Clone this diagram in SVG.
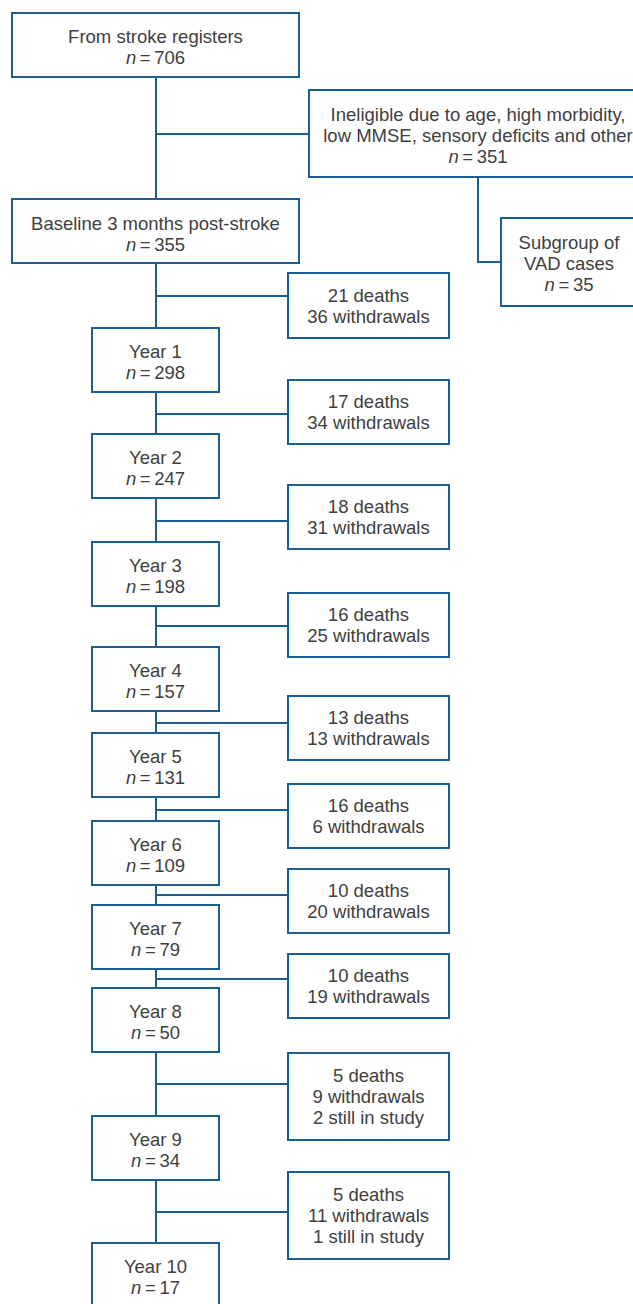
<svg xmlns="http://www.w3.org/2000/svg" width="633" height="1304" viewBox="0 0 633 1304">
<style>
.box{fill:#fff;stroke:#1b5e96;stroke-width:2}
.ln{fill:none;stroke:#1b5e96;stroke-width:2}
text{font-family:"Liberation Sans",Arial,sans-serif;font-size:18.5px;fill:#404040;text-anchor:middle}
.n{word-spacing:-1.5px}
.i{font-style:italic}
</style>
<rect width="633" height="1304" fill="#fff"/>
<g id="connectors">
<path class="ln" d="M156 77V199M156 134H309M478 177V262H501"/>
<path class="ln" d="M156 263V328M156 296H288"/>
<path class="ln" d="M156 392V434M156 414H288"/>
<path class="ln" d="M156 498V542M156 521H288"/>
<path class="ln" d="M156 606V647M156 626H288"/>
<path class="ln" d="M156 711V733M156 723H288"/>
<path class="ln" d="M156 797V821M156 810H288"/>
<path class="ln" d="M156 885V905M156 895H288"/>
<path class="ln" d="M156 969V988M156 979H288"/>
<path class="ln" d="M156 1052V1116M156 1084H288"/>
<path class="ln" d="M156 1180V1243M156 1212H288"/>
</g>
<g id="registers"><rect class="box" x="12" y="13" width="287" height="64"/><text x="155.5" y="43">From stroke registers</text><text class="n" x="155.5" y="64"><tspan class="i">n</tspan> = 706</text></g>
<g id="ineligible"><rect class="box" x="309" y="90" width="338" height="87"/><text x="478" y="121">Ineligible due to age, high morbidity,</text><text x="478" y="142">low MMSE, sensory deficits and other</text><text class="n" x="478" y="163"><tspan class="i">n</tspan> = 351</text></g>
<g id="subgroup"><rect class="box" x="501" y="218" width="136" height="88"/><text x="569" y="249">Subgroup of</text><text x="569" y="270">VAD cases</text><text class="n" x="569" y="291"><tspan class="i">n</tspan> = 35</text></g>
<g id="baseline"><rect class="box" x="12" y="199" width="287" height="64"/><text x="155.5" y="230">Baseline 3 months post-stroke</text><text class="n" x="155.5" y="251"><tspan class="i">n</tspan> = 355</text></g>
<g id="year1"><rect class="box" x="92" y="328" width="127" height="64"/><text x="155.5" y="358">Year 1</text><text class="n" x="155.5" y="379"><tspan class="i">n</tspan> = 298</text></g>
<g id="year2"><rect class="box" x="92" y="434" width="127" height="64"/><text x="155.5" y="464">Year 2</text><text class="n" x="155.5" y="485"><tspan class="i">n</tspan> = 247</text></g>
<g id="year3"><rect class="box" x="92" y="542" width="127" height="64"/><text x="155.5" y="572">Year 3</text><text class="n" x="155.5" y="593"><tspan class="i">n</tspan> = 198</text></g>
<g id="year4"><rect class="box" x="92" y="647" width="127" height="64"/><text x="155.5" y="677">Year 4</text><text class="n" x="155.5" y="698"><tspan class="i">n</tspan> = 157</text></g>
<g id="year5"><rect class="box" x="92" y="733" width="127" height="64"/><text x="155.5" y="763">Year 5</text><text class="n" x="155.5" y="784"><tspan class="i">n</tspan> = 131</text></g>
<g id="year6"><rect class="box" x="92" y="821" width="127" height="64"/><text x="155.5" y="851">Year 6</text><text class="n" x="155.5" y="872"><tspan class="i">n</tspan> = 109</text></g>
<g id="year7"><rect class="box" x="92" y="905" width="127" height="64"/><text x="155.5" y="935">Year 7</text><text class="n" x="155.5" y="956"><tspan class="i">n</tspan> = 79</text></g>
<g id="year8"><rect class="box" x="92" y="988" width="127" height="64"/><text x="155.5" y="1018">Year 8</text><text class="n" x="155.5" y="1039"><tspan class="i">n</tspan> = 50</text></g>
<g id="year9"><rect class="box" x="92" y="1116" width="127" height="64"/><text x="155.5" y="1146">Year 9</text><text class="n" x="155.5" y="1167"><tspan class="i">n</tspan> = 34</text></g>
<g id="year10"><rect class="box" x="92" y="1243" width="127" height="64"/><text x="155.5" y="1273">Year 10</text><text class="n" x="155.5" y="1294"><tspan class="i">n</tspan> = 17</text></g>
<g id="loss1"><rect class="box" x="288" y="273" width="161" height="65"/><text x="368.5" y="302">21 deaths</text><text x="368.5" y="323">36 withdrawals</text></g>
<g id="loss2"><rect class="box" x="288" y="380" width="161" height="64"/><text x="368.5" y="408">17 deaths</text><text x="368.5" y="429">34 withdrawals</text></g>
<g id="loss3"><rect class="box" x="288" y="485" width="161" height="64"/><text x="368.5" y="513">18 deaths</text><text x="368.5" y="534">31 withdrawals</text></g>
<g id="loss4"><rect class="box" x="288" y="593" width="161" height="64"/><text x="368.5" y="621">16 deaths</text><text x="368.5" y="642">25 withdrawals</text></g>
<g id="loss5"><rect class="box" x="288" y="696" width="161" height="64"/><text x="368.5" y="724">13 deaths</text><text x="368.5" y="745">13 withdrawals</text></g>
<g id="loss6"><rect class="box" x="288" y="784" width="161" height="64"/><text x="368.5" y="812">16 deaths</text><text x="368.5" y="833">6 withdrawals</text></g>
<g id="loss7"><rect class="box" x="288" y="869" width="161" height="64"/><text x="368.5" y="897">10 deaths</text><text x="368.5" y="918">20 withdrawals</text></g>
<g id="loss8"><rect class="box" x="288" y="954" width="161" height="64"/><text x="368.5" y="982">10 deaths</text><text x="368.5" y="1003">19 withdrawals</text></g>
<g id="loss9"><rect class="box" x="288" y="1053" width="161" height="87"/><text x="368.5" y="1082">5 deaths</text><text x="368.5" y="1103">9 withdrawals</text><text x="368.5" y="1124">2 still in study</text></g>
<g id="loss10"><rect class="box" x="288" y="1172" width="161" height="87"/><text x="368.5" y="1201">5 deaths</text><text x="368.5" y="1222">11 withdrawals</text><text x="368.5" y="1243">1 still in study</text></g>
</svg>
